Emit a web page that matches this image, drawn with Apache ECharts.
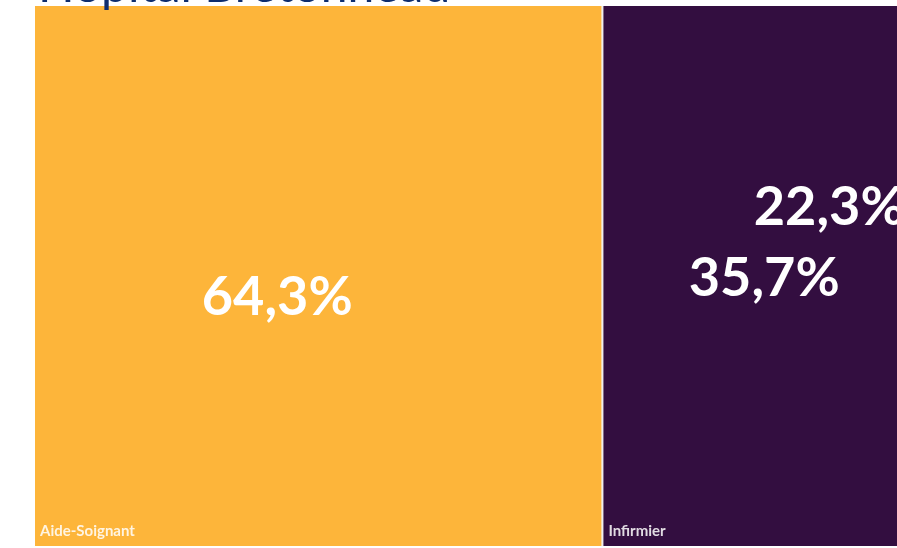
<!DOCTYPE html>
<html>
<head>
<meta charset="utf-8">
<script src="https://cdn.jsdelivr.net/npm/echarts@6/dist/echarts.min.js"></script>
<style>
html,body{margin:0;padding:0;background:#fff;}
#c{width:897px;height:548px;}
</style>
</head>
<body>
<div id="c"></div>
<script>
const titleText = 'Hôpital Bretonneau';
const categories = ['Aide-Soignant', 'Infirmier'];
const values = [64.3, 35.7];
const extraLabels = ['', '22,3%'];
const colors = ['#FDB53A', '#330E40'];

const fmt = v => v.toFixed(1).replace('.', ',') + '%';

const chart = echarts.init(document.getElementById('c'), null, {renderer: 'canvas'});

const layout = {left: 35, top: 6, width: 882, height: 540};

const baseData = categories.map((name, i) => ({
  name: name,
  value: values[i],
  itemStyle: {color: colors[i]}
}));

const pctOffsets = [[-41, 251], [4, 161]];
const overlayData = categories.map((name, i) => ({
  name: name,
  value: values[i],
  itemStyle: {color: 'transparent', borderColor: 'transparent'},
  label: {offset: pctOffsets[i]}
}));

const common = Object.assign({
  type: 'treemap',
  roam: false,
  nodeClick: false,
  silent: true,
  breadcrumb: {show: false},
  animation: false,
  emphasis: {disabled: true}
}, layout);

chart.setOption({
  backgroundColor: '#ffffff',
  animation: false,
  title: {
    text: titleText,
    left: 33,
    top: -42,
    textStyle: {fontFamily: 'Lato', fontWeight: 'normal', fontSize: 48, color: '#0E2D6E'}
  },
  series: [
    Object.assign({}, common, {
      levels: [{itemStyle: {borderColor: '#eeeeee', borderWidth: 0, gapWidth: 2}}],
      label: {
        show: true,
        position: 'insideBottomLeft',
        distance: 0,
        padding: [0, 0, 7, 5],
        color: 'rgba(255,255,255,0.85)',
        fontFamily: 'Lato',
        fontWeight: 'bold',
        fontSize: 15,
        formatter: p => p.name
      },
      data: baseData
    }),
    Object.assign({}, common, {
      levels: [{itemStyle: {borderColor: 'transparent', color: 'transparent', borderWidth: 0, gapWidth: 2}}],
      label: {
        show: true,
        position: 'inside',
        align: 'center',
        verticalAlign: 'middle',
        overflow: 'none',
        color: '#ffffff',
        fontFamily: 'Lato',
        fontWeight: 'bold',
        fontSize: 54,
        formatter: p => {
          const i = categories.indexOf(p.name);
          const main = fmt(values[i]);
          return extraLabels[i] ? '{a|' + extraLabels[i] + '}\n{b|' + main + '}' : '{b|' + main + '}';
        },
        rich: {
          a: {color: '#fff', fontFamily: 'Lato', fontWeight: 'bold', fontSize: 54, lineHeight: 71, padding: [0, 0, 0, 130]},
          b: {color: '#fff', fontFamily: 'Lato', fontWeight: 'bold', fontSize: 54, lineHeight: 71}
        }
      },
      data: overlayData
    })
  ]
});
</script>
</body>
</html>
